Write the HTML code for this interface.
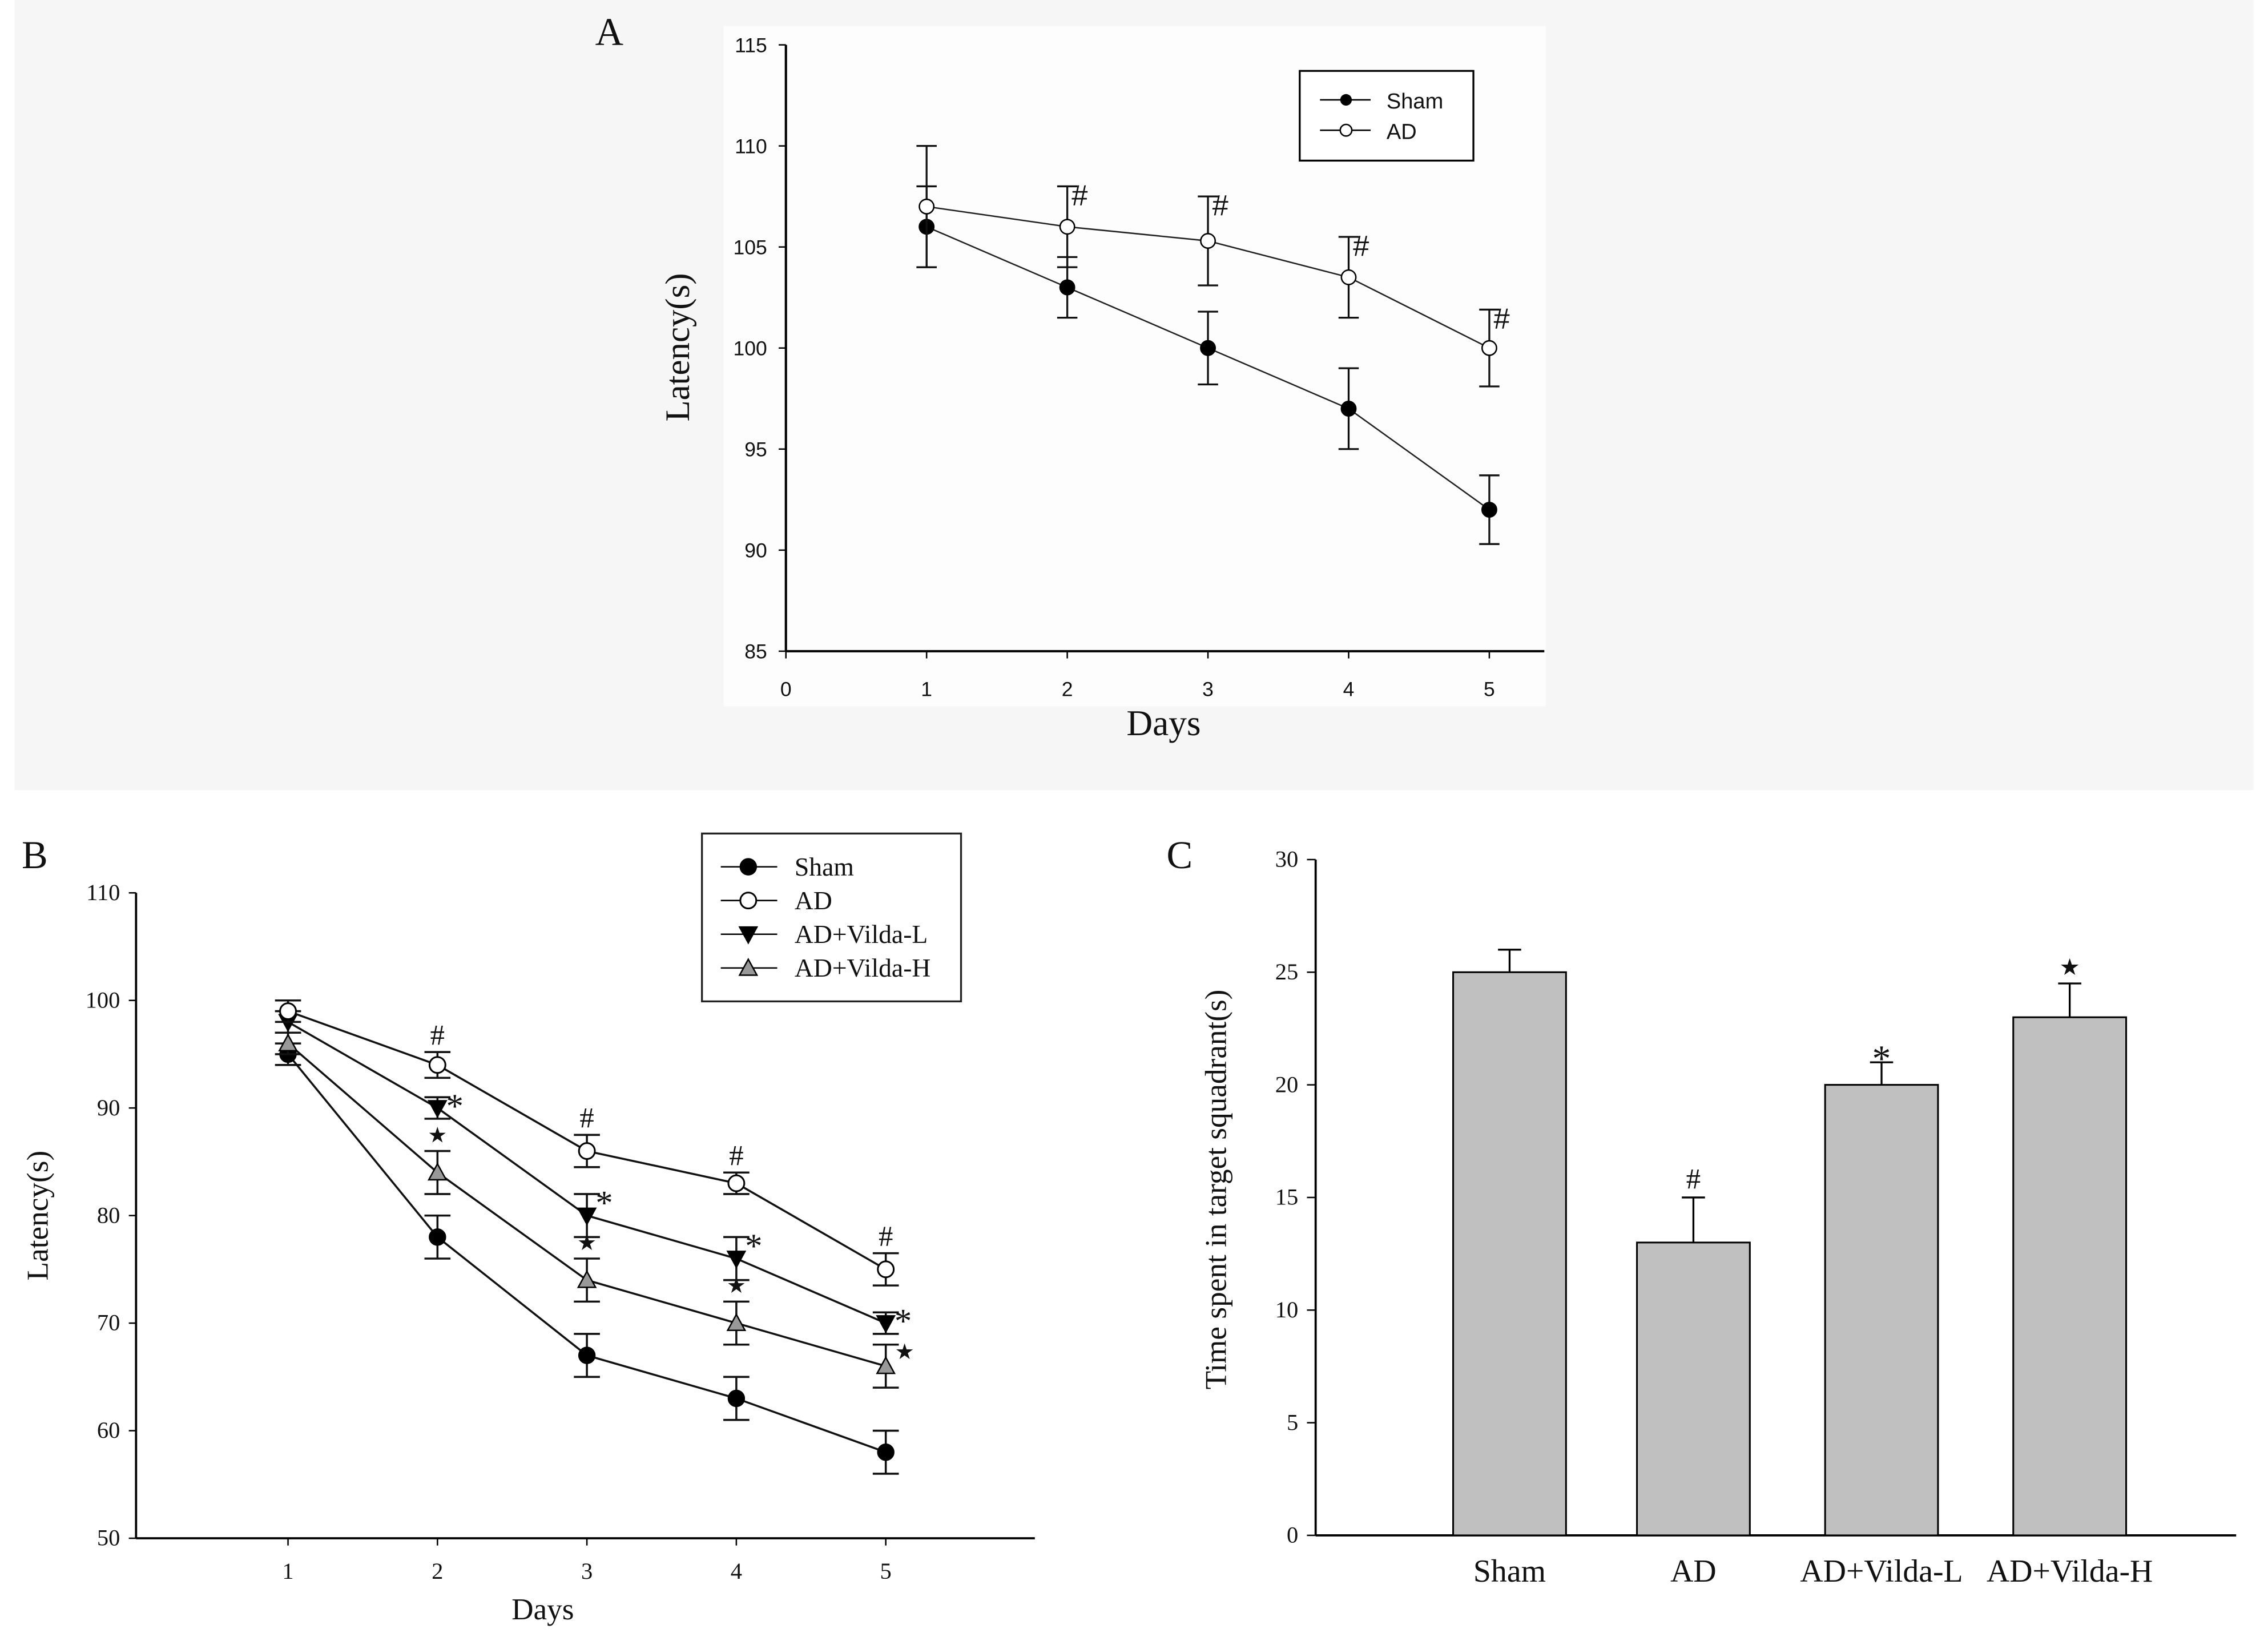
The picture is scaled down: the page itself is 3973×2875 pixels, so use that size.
<!DOCTYPE html>
<html><head><meta charset="utf-8"><style>
html,body{margin:0;padding:0;background:#fff;}
svg{display:block;}
text{font-family:"Liberation Serif",serif;fill:#111;}
.sans{font-family:"Liberation Sans",sans-serif;}
</style></head><body>
<svg id="fig" width="3973" height="2875" viewBox="0 0 1567 1134" preserveAspectRatio="none" xmlns="http://www.w3.org/2000/svg">
<rect x="10" y="0" width="1547" height="546" fill="#f6f6f6"/>
<rect x="500" y="18" width="568" height="470" fill="#fdfdfd"/>
<g id="gA"></g>
<g id="gB"></g>
<g id="gC"></g>
</svg>
<script>
// Panel A data
const aDays=[1,2,3,4,5];
const aSham=[106,103,100,97,92];
const aShamErr=[2,1.5,1.8,2,1.7];
const aAD=[107,106,105.3,103.5,100];
const aADErr=[3,2,2.2,2,1.9];
const aYTicks=[85,90,95,100,105,110,115];
const aXTicks=[0,1,2,3,4,5];
// Panel B data
const bDays=[1,2,3,4,5];
const bSham=[95,78,67,63,58];
const bShamErr=[1,2,2,2,2];
const bAD=[99,94,86,83,75];
const bADErr=[1,1.2,1.5,1,1.5];
const bL=[98,90,80,76,70];
const bLErr=[1,1,2,2,1];
const bH=[96,84,74,70,66];
const bHErr=[1,2,2,2,2];
const bYTicks=[50,60,70,80,90,100,110];
// Panel C data
const cCats=["Sham","AD","AD+Vilda-L","AD+Vilda-H"];
const cVals=[25,13,20,23];
const cErr=[1,2,1,1.5];
const cMarks=["","#","*","★"];
const cYTicks=[0,5,10,15,20,25,30];

const NS="http://www.w3.org/2000/svg";
function mk(parent,tag,attrs,txt){const e=document.createElementNS(NS,tag);for(const k in attrs)e.setAttribute(k,attrs[k]);if(txt!==undefined)e.textContent=txt;parent.appendChild(e);return e;}

// ---------- Panel A ----------
(function(){
const g=document.getElementById('gA');
const X=d=>543+d*97.2, Y=v=>450-(v-85)*(419/30);
let e;
e=mk(g,'line',{x1:543,y1:Y(115),x2:543,y2:450,stroke:'#000','stroke-width':1.6});

e=mk(g,'line',{x1:543,y1:450,x2:1067,y2:450,stroke:'#000','stroke-width':1.6});

aYTicks.forEach(v=>{mk(g,'line',{x1:538,y1:Y(v),x2:543,y2:Y(v),stroke:'#000'});
e=mk(g,'text',{x:530,y:Y(v)+5,'text-anchor':'end','font-size':14,class:'sans'},v);
});
aXTicks.forEach(d=>{mk(g,'line',{x1:X(d),y1:450,x2:X(d),y2:455,stroke:'#000'});
e=mk(g,'text',{x:X(d),y:481,'text-anchor':'middle','font-size':14,class:'sans'},d);
});
e=mk(g,'text',{x:0,y:0,transform:'translate(476,240) rotate(-90)','text-anchor':'middle','font-size':24},'Latency(s)');

e=mk(g,'text',{x:804,y:508,'text-anchor':'middle','font-size':25},'Days');

e=mk(g,'text',{x:421,y:31,'text-anchor':'middle','font-size':27},'A');

function series(vals,errs,fill,name){
 mk(g,'polyline',{points:vals.map((v,i)=>X(aDays[i])+','+Y(v)).join(' '),fill:'none',stroke:'#222','stroke-width':1});
 vals.forEach((v,i)=>{const x=X(aDays[i]);
  mk(g,'line',{x1:x,y1:Y(v+errs[i]),x2:x,y2:Y(v-errs[i]),stroke:'#111','stroke-width':1.3});
  mk(g,'line',{x1:x-7,y1:Y(v+errs[i]),x2:x+7,y2:Y(v+errs[i]),stroke:'#111','stroke-width':1.3});
  mk(g,'line',{x1:x-7,y1:Y(v-errs[i]),x2:x+7,y2:Y(v-errs[i]),stroke:'#111','stroke-width':1.3});
  const c=mk(g,'circle',{cx:x,cy:Y(v),r:5,fill:fill,stroke:'#000','stroke-width':1});
  });
}
series(aSham,aShamErr,'#000','a-sham');
series(aAD,aADErr,'#fff','a-ad');
aAD.forEach((v,i)=>{if(i>0){e=mk(g,'text',{x:X(aDays[i])+3,y:Y(v+aADErr[i])+13,'font-size':20,class:'sans'},'#');
}});
const lg=mk(g,'g',{});
mk(lg,'rect',{x:898,y:49,width:120,height:62,fill:'#fff',stroke:'#000','stroke-width':1.3});
mk(lg,'line',{x1:912,y1:69,x2:947,y2:69,stroke:'#000'});mk(lg,'circle',{cx:930,cy:69,r:4,fill:'#000'});
mk(lg,'text',{x:958,y:75,'font-size':15,class:'sans'},'Sham');
mk(lg,'line',{x1:912,y1:90,x2:947,y2:90,stroke:'#000'});mk(lg,'circle',{cx:930,cy:90,r:4,fill:'#fff',stroke:'#000'});
mk(lg,'text',{x:958,y:96,'font-size':15,class:'sans'},'AD');
})();

// ---------- Panel B ----------
(function(){
const g=document.getElementById('gB');
const X=d=>199+(d-1)*103.25, Y=v=>1063-(v-50)*(446/60);
let e;
e=mk(g,'line',{x1:94,y1:Y(110),x2:94,y2:1063,stroke:'#000','stroke-width':1.5});

e=mk(g,'line',{x1:94,y1:1063,x2:715,y2:1063,stroke:'#000','stroke-width':1.5});

bYTicks.forEach(v=>{mk(g,'line',{x1:89,y1:Y(v),x2:94,y2:Y(v),stroke:'#000'});
e=mk(g,'text',{x:83,y:Y(v)+5,'text-anchor':'end','font-size':16},v);
});
bDays.forEach(d=>{mk(g,'line',{x1:X(d),y1:1063,x2:X(d),y2:1068,stroke:'#000'});
e=mk(g,'text',{x:X(d),y:1091,'text-anchor':'middle','font-size':16},d);
});
e=mk(g,'text',{x:0,y:0,transform:'translate(33,840) rotate(-90)','text-anchor':'middle','font-size':21},'Latency(s)');

e=mk(g,'text',{x:375,y:1119,'text-anchor':'middle','font-size':21},'Days');

e=mk(g,'text',{x:24,y:600,'text-anchor':'middle','font-size':27},'B');

function marker(p,x,y,type){
 if(type==='fc')return mk(p,'circle',{cx:x,cy:y,r:5.5,fill:'#000',stroke:'#000'});
 if(type==='oc')return mk(p,'circle',{cx:x,cy:y,r:5.5,fill:'#fff',stroke:'#000','stroke-width':1.2});
 if(type==='dt')return mk(p,'polygon',{points:`${x-6},${y-5} ${x+6},${y-5} ${x},${y+6}`,fill:'#000',stroke:'#000'});
 return mk(p,'polygon',{points:`${x-6},${y+5} ${x+6},${y+5} ${x},${y-6}`,fill:'#999',stroke:'#000'});
}
function series(vals,errs,type,name){
 mk(g,'polyline',{points:vals.map((v,i)=>X(bDays[i])+','+Y(v)).join(' '),fill:'none',stroke:'#111','stroke-width':1.4});
 vals.forEach((v,i)=>{const x=X(bDays[i]);
  mk(g,'line',{x1:x,y1:Y(v+errs[i]),x2:x,y2:Y(v-errs[i]),stroke:'#111','stroke-width':1.4});
  mk(g,'line',{x1:x-9,y1:Y(v+errs[i]),x2:x+9,y2:Y(v+errs[i]),stroke:'#111','stroke-width':1.4});
  mk(g,'line',{x1:x-9,y1:Y(v-errs[i]),x2:x+9,y2:Y(v-errs[i]),stroke:'#111','stroke-width':1.4});
  const m=marker(g,x,Y(v),type);
  });
}
series(bSham,bShamErr,'fc','b-sham');
series(bH,bHErr,'ut','b-vilda-h');
series(bL,bLErr,'dt','b-vilda-l');
series(bAD,bADErr,'oc','b-ad');
bAD.forEach((v,i)=>{if(i>0){e=mk(g,'text',{x:X(bDays[i]),y:Y(v+bADErr[i])-5,'text-anchor':'middle','font-size':20,fill:'#555'},'#');
}});
bL.forEach((v,i)=>{if(i>0){e=mk(g,'text',{x:X(bDays[i])+12,y:Y(v+bLErr[i])+14,'text-anchor':'middle','font-size':24},'*');
}});
bH.forEach((v,i)=>{if(i>0){const x=i===4?X(bDays[i])+13:X(bDays[i]);const y=i===4?Y(v)-5:Y(v+bHErr[i])-6;
e=mk(g,'text',{x:x,y:y,'text-anchor':'middle','font-size':15},'★');
}});
const lg=mk(g,'g',{});
mk(lg,'rect',{x:485,y:576,width:179,height:116,fill:'#fff',stroke:'#222','stroke-width':1.3});
const names=['Sham','AD','AD+Vilda-L','AD+Vilda-H'],types=['fc','oc','dt','ut'];
names.forEach((n,i)=>{const y=599+i*23.3;mk(lg,'line',{x1:498,y1:y,x2:537,y2:y,stroke:'#000'});marker(lg,517,y,types[i]);
mk(lg,'text',{x:549,y:y+6,'font-size':18},n);});
})();

// ---------- Panel C ----------
(function(){
const g=document.getElementById('gC');
const Y=v=>1061-v*(467/30);
const xs=[1043,1170,1300,1430];
let e;
e=mk(g,'line',{x1:909,y1:Y(30),x2:909,y2:1061,stroke:'#000','stroke-width':1.5});

e=mk(g,'line',{x1:909,y1:1061,x2:1545,y2:1061,stroke:'#000','stroke-width':1.5});

cYTicks.forEach(v=>{mk(g,'line',{x1:903,y1:Y(v),x2:909,y2:Y(v),stroke:'#000'});
e=mk(g,'text',{x:897,y:Y(v)+5,'text-anchor':'end','font-size':16},v);
});
e=mk(g,'text',{x:0,y:0,transform:'translate(847,822) rotate(-90)','text-anchor':'middle','font-size':21},'Time spent in target squadrant(s)');

e=mk(g,'text',{x:815,y:600,'text-anchor':'middle','font-size':27},'C');

cVals.forEach((v,i)=>{const x=xs[i];
 const b=mk(g,'rect',{x:x-39,y:Y(v),width:78,height:Y(0)-Y(v),fill:'#c0c0c0',stroke:'#000','stroke-width':1.2});
 
 mk(g,'line',{x1:x,y1:Y(v),x2:x,y2:Y(v+cErr[i]),stroke:'#000','stroke-width':1.3});
 mk(g,'line',{x1:x-8,y1:Y(v+cErr[i]),x2:x+8,y2:Y(v+cErr[i]),stroke:'#000','stroke-width':1.3});
 if(cMarks[i]){e=mk(g,'text',{x:x,y:Y(v+cErr[i])-(cMarks[i]==='*'?-6:6),'text-anchor':'middle','font-size':cMarks[i]==='★'?16:(cMarks[i]==='*'?26:20),fill:cMarks[i]==='#'?'#555':'#111'},cMarks[i]);
 }
 e=mk(g,'text',{x:x,y:1093,'text-anchor':'middle','font-size':22},cCats[i]);
 
});
})();
</script>
</body></html>
